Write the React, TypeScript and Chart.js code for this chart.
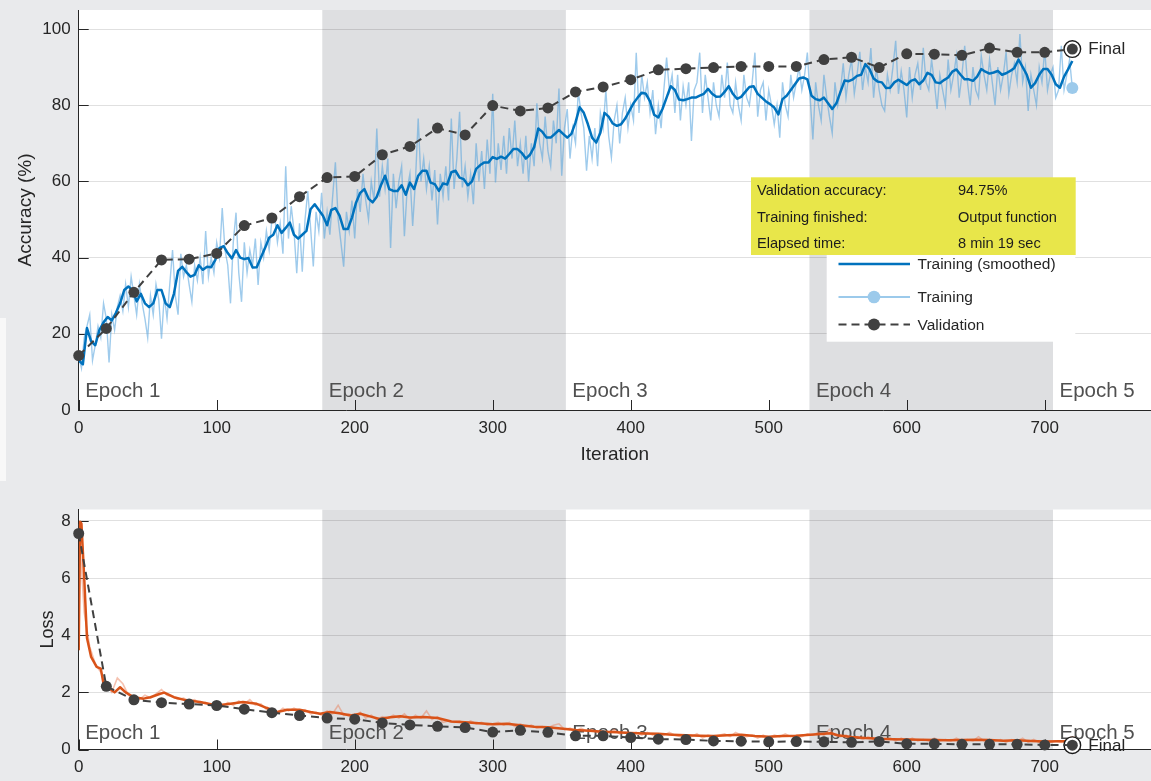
import { useEffect, useRef } from "react";
import { Chart, registerables } from "chart.js";

Chart.register(...registerables);

const FONT = '"Liberation Sans", Arial, Helvetica, sans-serif';

// ---- data -----------------------------------------------------------------

// Raw training accuracy, one reading every RAW_STEP iterations (0..720)
const RAW_STEP = 2;
const trainAccRaw = [
  14, 11, 19, 22, 25, 13, 17, 22, 19, 28, 24, 12.5, 25, 21, 27,
  30, 26, 33, 27, 35, 30, 25, 33, 28, 24, 19, 30, 25, 33, 29,
  18.7, 30, 24, 33, 42, 30, 25, 41, 35, 38, 33, 28.4, 38, 34, 40,
  33, 47, 35, 40, 36, 44, 40, 53, 42, 38, 28, 44, 51.8, 36, 28.4,
  44, 36, 42, 38, 45, 32.8, 44, 40, 47, 42, 50, 50.9, 44, 49, 41,
  64, 45, 53.5, 47, 35.9, 49, 36.3, 50, 57.5, 48, 37.7, 52, 47, 57, 45,
  52, 46, 56, 65, 50, 44, 37.6, 52, 47, 55, 45, 58, 52, 62, 55,
  50, 60, 55, 73.9, 56, 64, 58, 66, 42.5, 62, 53, 60, 64, 45.6, 58,
  62, 48.3, 60, 76.5, 60, 66, 58, 64, 55, 63, 48.7, 62, 56, 64, 55,
  76.5, 58, 66, 78.3, 58.4, 64, 56, 62, 54, 70, 60, 68, 58, 71, 62,
  83, 59.7, 70, 63, 72, 62, 74, 66, 76, 64, 70, 62, 72, 60, 70,
  64, 80.5, 70, 66, 77, 68, 64, 76, 70, 84.4, 61.5, 74, 79, 66, 74,
  70, 83.6, 78, 74, 62.8, 72, 66, 74, 64, 78, 74, 84, 72, 66.3, 76,
  80, 70, 78, 82, 74, 80, 76, 93.8, 78, 88, 82, 86, 78, 84, 72.4,
  80, 74, 84, 92.5, 84, 88, 78, 88, 76, 85, 80, 86, 70.6, 84, 86,
  93.8, 78, 88, 82, 76, 86, 80, 77, 88, 82, 91.2, 80, 78, 86, 80,
  76, 88, 82, 80, 86, 93.8, 77, 84, 86, 76, 84, 80, 75, 80, 71.5,
  86, 80, 77, 88, 82, 86, 90, 84, 88, 93.8, 82, 71, 86, 80, 76,
  88, 82, 77, 72.7, 86, 80, 84, 91, 82, 88, 92, 83, 88, 94, 84,
  90, 86, 95, 82, 90, 84, 80, 78.5, 88, 84, 90, 96.9, 83, 89, 84,
  76.8, 90, 82, 88, 91, 84, 95.1, 86, 84, 92, 86, 79, 88, 84, 80,
  92, 84, 88, 93, 82, 88, 95.6, 86, 80, 90, 84, 82, 93, 88, 84,
  92, 86, 80, 90, 84, 88, 94, 83, 88, 91, 86, 98.7, 86, 90, 78.5,
  88, 84, 80, 90, 86, 94.7, 84, 88, 90, 82, 84, 95.6, 84, 88, 92,
  84.5,
];

// Smoothed training accuracy, one reading every SMOOTH_STEP iterations (0..720)
const SMOOTH_STEP = 3;
const trainAccSmooth = [
  13, 12, 21.5, 18, 17, 21, 23, 24.4, 23.5, 25.5,
  28, 31.5, 32.4, 31.5, 28.5, 30.5, 28, 27, 28, 31.5,
  31.5, 28, 27, 30.5, 36.5, 37.6, 36.2, 35, 35.5, 38,
  36.8, 37.6, 37.5, 39.4, 42.5, 43, 41.2, 39.8, 42, 40,
  39.6, 39.9, 37.4, 37.5, 40, 42.5, 45.2, 46, 48.5, 46.5,
  47.8, 49.2, 46, 45, 46, 47, 52.7, 54, 52.5, 51,
  48.5, 52.5, 53, 51, 47.5, 47.5, 50.5, 54.5, 57, 58,
  55.5, 54.5, 56, 59, 61.5, 58, 57.5, 57.5, 59, 56.5,
  59.7, 58, 61.5, 62.8, 62.8, 59.7, 59.3, 57.5, 59.5, 59.2,
  62.4, 62.8, 61, 60.6, 59, 60, 63.3, 64.3, 65, 65,
  66.4, 65.9, 66.5, 66, 67.2, 68.5, 68.5, 67.5, 66, 67,
  69, 73.9, 73, 71.5, 71.5, 72.5, 73.5, 72.5, 71.5, 72.5,
  75.5, 79.5, 78, 75, 71.5, 70.2, 72.8, 78, 77, 75.2,
  74.6, 75, 76.5, 78.5, 80.5, 82, 83.3, 83, 81, 77.5,
  76.8, 79, 82, 85, 84, 81.5, 81.3, 81.6, 82, 82,
  82.5, 83, 84.3, 83, 82.2, 82.3, 83.5, 85, 83, 81.7,
  82.2, 83.5, 84.8, 85, 83, 82, 81, 80.3, 79.4, 77.6,
  81.6, 82.5, 84, 85.5, 87, 87.3, 86.8, 82.5, 81.6, 81.3,
  82, 80.5, 79, 80.5, 83.5, 86.5, 86.3, 86.8, 87.7, 88,
  90.8, 89.5, 87, 86.2, 86, 84.5, 84.6, 86, 86.7, 86,
  85.3, 86.4, 86.8, 85.5, 86.5, 88.5, 88, 86, 85.8, 86.6,
  87.3, 88.8, 89.4, 88, 86.8, 86.8, 86.4, 87.5, 89.5, 88.8,
  88.3, 88.6, 89, 88, 88.4, 89, 89.8, 92, 90, 88,
  84.6, 85.8, 88, 89.5, 89.5, 88, 85.5, 84.6, 87.5, 89.5, 91.6,
];

// Validation runs every VAL_STEP iterations (0..720)
const VAL_STEP = 20;
const valAcc = [
  14.3, 21.4, 30.9, 39.4, 39.6, 41.1, 48.4, 50.4, 56.0, 61.0,
  61.3, 67.0, 69.2, 74.0, 72.2, 79.9, 78.5, 79.3, 83.5, 84.8,
  86.7, 89.3, 89.6, 89.9, 90.2, 90.2, 90.2, 92.0, 92.6, 89.9,
  93.5, 93.4, 93.1, 95.0, 93.9, 93.9, 94.75,
];
const valLoss = [
  7.56, 2.21, 1.74, 1.64, 1.59, 1.54, 1.41, 1.29, 1.19, 1.10,
  1.06, 0.93, 0.86, 0.81, 0.77, 0.61, 0.67, 0.60, 0.48, 0.48,
  0.42, 0.36, 0.35, 0.30, 0.29, 0.27, 0.28, 0.27, 0.25, 0.28,
  0.20, 0.20, 0.18, 0.18, 0.18, 0.16, 0.15,
];

// Smoothed training loss at the iterations where it was read
const lossSmoothIter = [
  0, 1, 2, 4, 6, 9, 13, 16, 18, 21, 24, 26, 30, 34, 40, 47, 52, 59, 62, 69,
  78, 88, 100, 110, 119, 129, 136, 144, 151, 160, 168, 175, 182, 189, 197, 204, 211, 218, 226, 233,
  240, 250, 260, 270, 280, 290, 300, 310, 320, 330, 340, 353, 360, 370, 380, 390, 400, 410, 420, 430,
  440, 450, 460, 470, 480, 490, 500, 510, 520, 530, 540, 545, 550, 560, 570, 580, 590, 600, 610, 620,
  630, 640, 650, 660, 670, 680, 690, 700, 710, 720,
];
const lossSmoothVal = [
  3.47, 7.97, 7.9, 6.0, 3.9, 3.24, 2.89, 2.83, 2.3, 2.25, 2.07, 2.0, 2.18, 2.0, 1.83, 1.78, 1.83, 1.95, 1.99, 1.83,
  1.72, 1.66, 1.54, 1.6, 1.66, 1.6, 1.46, 1.31, 1.39, 1.39, 1.31, 1.25, 1.31, 1.27, 1.19, 1.25, 1.16, 1.07, 1.13, 1.16,
  1.12, 1.14, 1.1, 0.98, 0.95, 0.92, 0.88, 0.9, 0.85, 0.8, 0.78, 0.72, 0.68, 0.66, 0.62, 0.6, 0.58, 0.56, 0.55, 0.52,
  0.5, 0.48, 0.47, 0.5, 0.52, 0.47, 0.45, 0.47, 0.48, 0.52, 0.55, 0.57, 0.5, 0.44, 0.4, 0.38, 0.36, 0.35, 0.34, 0.33,
  0.32, 0.33, 0.34, 0.33, 0.31, 0.32, 0.3, 0.28, 0.29, 0.29,
];

// Raw training loss, one reading every LOSS_STEP iterations (0..720)
const LOSS_STEP = 4;
const trainLossRaw = [
  7.9, 4.8, 3.6, 3.0, 2.7, 2.3, 2.0, 2.5, 2.3, 1.9,
  1.8, 1.75, 1.9, 1.8, 1.95, 2.1, 1.9, 1.85, 1.75, 1.8,
  1.7, 1.75, 1.6, 1.65, 1.55, 1.6, 1.5, 1.65, 1.55, 1.7,
  1.6, 1.75, 1.55, 1.6, 1.4, 1.35, 1.3, 1.45, 1.35, 1.45,
  1.35, 1.4, 1.25, 1.3, 1.2, 1.35, 1.25, 1.55, 1.2, 1.25,
  1.15, 1.3, 1.1, 1.2, 1.05, 1.15, 1.1, 1.2, 1.1, 1.25,
  1.05, 1.2, 1.1, 1.35, 1.05, 1.15, 0.95, 1.0, 0.95, 1.0,
  0.9, 1.0, 0.9, 0.95, 0.85, 0.9, 0.95, 0.85, 0.95, 0.8,
  0.9, 0.8, 0.85, 0.75, 0.8, 0.75, 0.85, 0.9, 0.7, 0.75,
  0.65, 0.75, 0.65, 0.7, 0.6, 0.65, 0.6, 0.7, 0.55, 0.6,
  0.55, 0.6, 0.5, 0.6, 0.5, 0.55, 0.5, 0.6, 0.5, 0.45,
  0.5, 0.45, 0.55, 0.4, 0.5, 0.45, 0.5, 0.55, 0.45, 0.6,
  0.5, 0.45, 0.5, 0.4, 0.5, 0.4, 0.5, 0.45, 0.55, 0.45,
  0.5, 0.45, 0.55, 0.5, 0.6, 0.5, 0.7, 0.5, 0.45, 0.5,
  0.4, 0.45, 0.35, 0.45, 0.35, 0.4, 0.35, 0.4, 0.3, 0.4,
  0.3, 0.4, 0.3, 0.35, 0.3, 0.4, 0.3, 0.35, 0.3, 0.4,
  0.3, 0.35, 0.3, 0.45, 0.3, 0.35, 0.3, 0.35, 0.25, 0.35,
  0.3, 0.4, 0.25, 0.35, 0.25, 0.3, 0.25, 0.3, 0.25, 0.35,
  0.3,
];

const epochStarts = [0, 176.5, 353, 529.5, 706];
const epochLabels = ["Epoch 1", "Epoch 2", "Epoch 3", "Epoch 4", "Epoch 5"];
const infoLabels = ["Validation accuracy:", "Training finished:", "Elapsed time:"];
const infoValues = [`${valAcc[valAcc.length - 1].toFixed(2)}%`, "Output function", "8 min 19 sec"];
const legendLabels = ["Training (smoothed)", "Training", "Validation"];

// ---- styling ----------------------------------------------------------------

const FIG_BG = "#e9eaec";
const BAND = "#dedfe1";
const AXIS = "#262626";
const VAL_COLOR = "#404040";
const BLUE = "#0072bd";
const BLUE_RAW = "rgba(80,160,220,0.55)";
const BLUE_DOT = "#9ccaeb";
const ORANGE = "#d95319";
const ORANGE_RAW = "rgba(232,120,80,0.45)";
const ORANGE_DOT = "#f2bca6";
const GRID = "rgba(0,0,0,0.12)";

const X_MAX = 777;

type Pt = { x: number; y: number };
const stepped = (vals: number[], step: number): Pt[] => vals.map((y, i) => ({ x: i * step, y }));
const paired = (xs: number[], ys: number[]): Pt[] => xs.map((x, i) => ({ x, y: ys[i] }));

interface Decor {
  epochLift: number;
  legendBox: [number, number, number, number];
  legendY: number[];
  smoothColor: string;
  rawDot: string;
  finalValue: number;
  finalDy: number;
  info: boolean;
}

function decorPlugin(d: Decor) {
  return {
    id: "decor",
    beforeDraw(chart: any) {
      const { ctx, chartArea: a, scales } = chart;
      const x = scales.x;
      ctx.save();
      ctx.fillStyle = "#ffffff";
      ctx.fillRect(a.left, a.top, a.right - a.left, a.bottom - a.top);
      ctx.fillStyle = BAND;
      for (let i = 1; i < epochStarts.length; i += 2) {
        const x0 = x.getPixelForValue(epochStarts[i]);
        const x1 = i + 1 < epochStarts.length ? x.getPixelForValue(epochStarts[i + 1]) : a.right;
        ctx.fillRect(x0, a.top, x1 - x0, a.bottom - a.top);
      }
      ctx.restore();
    },
    beforeDatasetsDraw(chart: any) {
      const { ctx, chartArea: a, scales } = chart;
      const x = scales.x;
      const y = scales.y;
      ctx.save();
      // tick marks drawn inward, from the axes into the plot
      ctx.strokeStyle = AXIS;
      ctx.lineWidth = 1;
      ctx.beginPath();
      for (const t of x.ticks) {
        const px = Math.round(x.getPixelForValue(t.value)) + 0.5;
        ctx.moveTo(px, a.bottom);
        ctx.lineTo(px, a.bottom - 10);
      }
      for (const t of y.ticks) {
        const py = Math.round(y.getPixelForValue(t.value)) + 0.5;
        ctx.moveTo(a.left, py);
        ctx.lineTo(a.left + 10, py);
      }
      ctx.stroke();
      // epoch captions
      ctx.fillStyle = "#505050";
      ctx.font = `20.5px ${FONT}`;
      ctx.textBaseline = "alphabetic";
      ctx.textAlign = "left";
      epochStarts.forEach((e, i) => {
        ctx.fillText(epochLabels[i], x.getPixelForValue(e) + 6.5, a.bottom - d.epochLift);
      });
      ctx.restore();
    },
    afterDraw(chart: any) {
      const { ctx, scales } = chart;
      const x = scales.x;
      const y = scales.y;
      ctx.save();
      // "Final" caption next to the last validation point
      const lastIter = (valAcc.length - 1) * VAL_STEP;
      ctx.fillStyle = AXIS;
      ctx.font = `17px ${FONT}`;
      ctx.textBaseline = "middle";
      ctx.textAlign = "left";
      ctx.fillText("Final", x.getPixelForValue(lastIter) + 16, y.getPixelForValue(d.finalValue) + d.finalDy);

      // summary box
      if (d.info) {
        ctx.fillStyle = "#e8e64a";
        ctx.fillRect(751, 177.3, 324.7, 77.7);
        ctx.fillStyle = "#1c1c1c";
        ctx.font = `14.6px ${FONT}`;
        const rows = [191, 218.3, 244.3];
        rows.forEach((ry, i) => {
          ctx.fillText(infoLabels[i], 757, ry);
          ctx.fillText(infoValues[i], 958, ry);
        });
      }

      // legend
      const [bx0, by0, bx1, by1] = d.legendBox;
      ctx.fillStyle = "#ffffff";
      ctx.fillRect(bx0, by0, bx1 - bx0, by1 - by0);
      const lx0 = 838.5;
      const lx1 = 910;
      const lxc = 874;
      d.legendY.forEach((ly, i) => {
        ctx.save();
        if (i === 0) {
          ctx.strokeStyle = d.smoothColor;
          ctx.lineWidth = 2.5;
          ctx.beginPath();
          ctx.moveTo(lx0, ly);
          ctx.lineTo(lx1, ly);
          ctx.stroke();
        } else if (i === 1) {
          ctx.strokeStyle = d.rawDot;
          ctx.lineWidth = 2;
          ctx.beginPath();
          ctx.moveTo(lx0, ly);
          ctx.lineTo(lx1, ly);
          ctx.stroke();
          ctx.fillStyle = d.rawDot;
          ctx.beginPath();
          ctx.arc(lxc, ly, 6.3, 0, Math.PI * 2);
          ctx.fill();
        } else {
          ctx.strokeStyle = VAL_COLOR;
          ctx.lineWidth = 2;
          ctx.setLineDash([8, 5]);
          ctx.beginPath();
          ctx.moveTo(lx0, ly);
          ctx.lineTo(lx1, ly);
          ctx.stroke();
          ctx.setLineDash([]);
          ctx.fillStyle = VAL_COLOR;
          ctx.beginPath();
          ctx.arc(lxc, ly, 6, 0, Math.PI * 2);
          ctx.fill();
        }
        ctx.restore();
        ctx.fillStyle = AXIS;
        ctx.font = `15.5px ${FONT}`;
        ctx.textBaseline = "middle";
        ctx.fillText(legendLabels[i], 917.5, ly + 1);
      });
      ctx.restore();
    },
  };
}

function baseOptions(p: {
  yMax: number;
  yStep: number;
  padTop: number;
  xHeight: number;
  xTitle: string | null;
  yTitle: string;
  yTitleSize: number;
  yTitleCenter: number;
}) {
  const tickFont = { family: FONT, size: 17 };
  return {
    animation: false as const,
    responsive: true,
    maintainAspectRatio: false,
    devicePixelRatio: 1,
    events: [],
    layout: { autoPadding: false, padding: { top: p.padTop, left: 0, right: 0, bottom: 0 } },
    plugins: { legend: { display: false }, tooltip: { enabled: false } },
    scales: {
      x: {
        type: "linear" as const,
        min: 0,
        max: X_MAX,
        afterFit: (s: any) => {
          s.height = p.xHeight;
          s.paddingLeft = 0;
          s.paddingRight = 0;
        },
        ticks: { stepSize: 100, includeBounds: false, font: tickFont, color: AXIS, padding: 8, maxRotation: 0 },
        grid: { display: false, drawTicks: false },
        border: { display: true, color: AXIS, width: 1 },
        title: p.xTitle
          ? {
              display: true,
              text: p.xTitle,
              color: AXIS,
              font: { family: FONT, size: 19 },
              padding: { top: 0, bottom: 3.6 },
            }
          : { display: false },
      },
      y: {
        type: "linear" as const,
        min: 0,
        max: p.yMax,
        afterFit: (s: any) => {
          s.width = 78.7;
          s.paddingTop = 0;
          s.paddingBottom = 0;
        },
        ticks: { stepSize: p.yStep, includeBounds: false, font: tickFont, color: AXIS, padding: 8 },
        grid: { color: GRID, lineWidth: 1, drawTicks: false },
        border: { display: true, color: AXIS, width: 1 },
        title: {
          display: true,
          text: p.yTitle,
          color: AXIS,
          font: { family: FONT, size: p.yTitleSize },
          padding: { top: p.yTitleCenter - (p.yTitleSize * 1.2) / 2, bottom: 0 },
        },
      },
    },
  };
}

function validationSets(vals: number[]) {
  const pts = stepped(vals, VAL_STEP);
  const last = pts[pts.length - 1];
  return [
    {
      label: "Validation",
      data: pts,
      borderColor: VAL_COLOR,
      borderWidth: 2,
      borderDash: [8, 5],
      pointRadius: 5.5,
      pointBackgroundColor: VAL_COLOR,
      pointBorderWidth: 0,
      tension: 0,
      clip: false,
    },
    {
      label: "Final",
      data: [last],
      showLine: false,
      pointRadius: 8.3,
      pointBackgroundColor: "#ffffff",
      pointBorderColor: "#1a1a1a",
      pointBorderWidth: 1.4,
      clip: false,
    },
  ];
}

function accuracyConfig(): any {
  const raw = stepped(trainAccRaw, RAW_STEP);
  const lastRaw = raw.length - 1;
  return {
    type: "line",
    data: {
      datasets: [
        ...validationSets(valAcc),
        {
          label: "Training (smoothed)",
          data: stepped(trainAccSmooth, SMOOTH_STEP),
          borderColor: BLUE,
          borderWidth: 2.5,
          pointRadius: 0,
          tension: 0,
          borderJoinStyle: "round",
        },
        {
          label: "Training",
          data: raw,
          borderColor: BLUE_RAW,
          borderWidth: 1.4,
          pointRadius: (c: any) => (c.dataIndex === lastRaw ? 6 : 0),
          pointBackgroundColor: BLUE_DOT,
          pointBorderWidth: 0,
          tension: 0,
          clip: false,
        },
      ],
    },
    options: baseOptions({
      yMax: 105,
      yStep: 20,
      padTop: 10,
      xHeight: 60,
      xTitle: "Iteration",
      yTitle: "Accuracy (%)",
      yTitleSize: 19,
      yTitleCenter: 26,
    }),
    plugins: [
      decorPlugin({
        epochLift: 13.3,
        legendBox: [826.7, 255, 1075.3, 341.7],
        legendY: [264, 297, 324.5],
        smoothColor: BLUE,
        rawDot: BLUE_DOT,
        finalValue: valAcc[valAcc.length - 1],
        finalDy: 0.5,
        info: true,
      }),
    ],
  };
}

function lossConfig(): any {
  const raw = stepped(trainLossRaw, LOSS_STEP);
  const lastRaw = raw.length - 1;
  return {
    type: "line",
    data: {
      datasets: [
        ...validationSets(valLoss),
        {
          label: "Training (smoothed)",
          data: paired(lossSmoothIter, lossSmoothVal),
          borderColor: ORANGE,
          borderWidth: 2.5,
          pointRadius: 0,
          tension: 0,
          borderJoinStyle: "round",
        },
        {
          label: "Training",
          data: raw,
          borderColor: ORANGE_RAW,
          borderWidth: 1.6,
          pointRadius: (c: any) => (c.dataIndex === lastRaw ? 5 : 0),
          pointBackgroundColor: ORANGE_DOT,
          pointBorderWidth: 0,
          tension: 0,
        },
      ],
    },
    options: baseOptions({
      yMax: 8.4,
      yStep: 2,
      padTop: 39.5,
      xHeight: 31.5,
      xTitle: null,
      yTitle: "Loss",
      yTitleSize: 18,
      yTitleCenter: 48,
    }),
    plugins: [
      decorPlugin({
        epochLift: 10.2,
        legendBox: [828, 610, 1072.7, 697.7],
        legendY: [621.7, 648.8, 680.7],
        smoothColor: ORANGE,
        rawDot: ORANGE_DOT,
        finalValue: valLoss[valLoss.length - 1],
        finalDy: 1,
        info: false,
      }),
    ],
  };
}

function ChartPanel({ make, top, height }: { make: () => any; top: number; height: number }) {
  const ref = useRef<HTMLCanvasElement>(null);
  useEffect(() => {
    if (!ref.current) return;
    const chart = new Chart(ref.current, make());
    return () => chart.destroy();
  }, [make]);
  return (
    <div style={{ position: "absolute", left: 0, top, width: 1151, height }}>
      <canvas ref={ref} />
    </div>
  );
}

export default function App() {
  return (
    <div
      style={{
        position: "fixed",
        left: 0,
        top: 0,
        width: 1151,
        height: 781,
        background: FIG_BG,
        overflow: "hidden",
      }}
    >
      <div style={{ position: "absolute", left: 0, top: 318, width: 6, height: 163, background: "#f8f8f8" }} />
      <ChartPanel make={accuracyConfig} top={0} height={470} />
      <ChartPanel make={lossConfig} top={470} height={311} />
    </div>
  );
}
